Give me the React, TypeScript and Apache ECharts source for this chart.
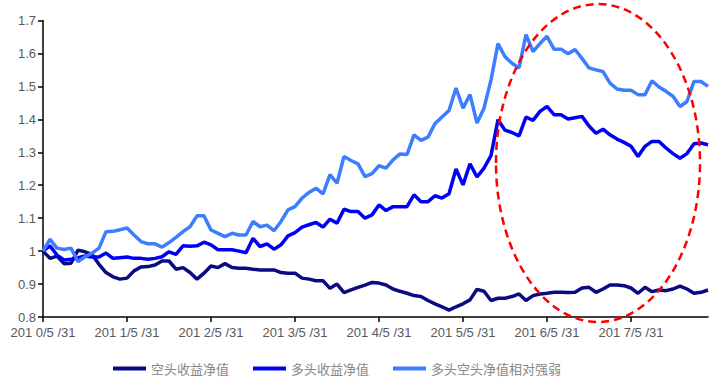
import React, { useEffect, useRef } from "react";
import * as echarts from "echarts";

const tickLabels = ["201 0/5 /31", "201 1/5 /31", "201 2/5 /31", "201 3/5 /31", "201 4/5 /31", "201 5/5 /31", "201 6/5 /31", "201 7/5 /31"];

// monthly categories from 2010/5 to 2018/4
const categories: string[] = [];
for (let k = 0; k < 96; k++) {
  const m = 4 + k;
  categories.push(`${2010 + Math.floor(m / 12)}/${(m % 12) + 1}`);
}

const shortNav = [
  1.0, 0.978, 0.985, 0.962, 0.963, 1.003, 0.998, 0.99, 0.96, 0.935,
  0.922, 0.915, 0.918, 0.94, 0.952, 0.953, 0.958, 0.97, 0.97, 0.945,
  0.95, 0.935, 0.915, 0.933, 0.955, 0.95, 0.962, 0.95, 0.948, 0.948,
  0.945, 0.943, 0.943, 0.943, 0.935, 0.933, 0.933, 0.918, 0.915, 0.91,
  0.91, 0.887, 0.9, 0.874, 0.882, 0.89, 0.897, 0.905, 0.903, 0.897,
  0.885, 0.878, 0.872, 0.865, 0.862, 0.85, 0.84, 0.831, 0.821, 0.831,
  0.84, 0.852, 0.884, 0.878, 0.85, 0.857, 0.857, 0.862, 0.87, 0.85,
  0.865, 0.87, 0.872, 0.875, 0.875, 0.874, 0.875, 0.888, 0.89, 0.875,
  0.885, 0.897, 0.897, 0.895, 0.888, 0.872, 0.89, 0.877, 0.882, 0.88,
  0.885, 0.894, 0.885, 0.872, 0.875, 0.882,
];

const longNav = [
  1.0, 1.016, 0.988, 0.973, 0.975, 0.98, 0.985, 0.982, 0.982, 0.994,
  0.978, 0.98, 0.982, 0.978, 0.978, 0.975, 0.978, 0.983, 0.998, 0.99,
  1.016, 1.015, 1.016, 1.027, 1.019, 1.004, 1.004, 1.004, 1.0, 0.995,
  1.039, 1.014, 1.022, 1.006, 1.019, 1.046, 1.056, 1.073, 1.08, 1.087,
  1.073, 1.097, 1.085, 1.127, 1.12, 1.12, 1.1, 1.11, 1.14, 1.123,
  1.135, 1.135, 1.135, 1.171, 1.15, 1.15, 1.168, 1.161, 1.174, 1.249,
  1.201, 1.265, 1.225, 1.252, 1.29, 1.399, 1.367, 1.36, 1.35, 1.407,
  1.397, 1.424, 1.439, 1.414, 1.414, 1.401, 1.405, 1.409, 1.38, 1.358,
  1.37, 1.353, 1.34, 1.33, 1.318, 1.287, 1.318, 1.333, 1.333, 1.313,
  1.296, 1.282, 1.296, 1.326, 1.328, 1.323,
];

const relStrength = [
  1.0, 1.036, 1.009, 1.005, 1.009, 0.968, 0.983, 0.994, 1.009, 1.059,
  1.06, 1.065, 1.07, 1.049, 1.029, 1.022, 1.022, 1.012, 1.026, 1.042,
  1.059, 1.074, 1.107, 1.107, 1.064, 1.054, 1.044, 1.054, 1.049, 1.049,
  1.09, 1.074, 1.079, 1.062, 1.09, 1.125, 1.135, 1.161, 1.178, 1.191,
  1.174, 1.232, 1.206, 1.287, 1.275, 1.265, 1.226, 1.235, 1.259, 1.252,
  1.277, 1.295, 1.293, 1.353, 1.336, 1.346, 1.387, 1.407, 1.427, 1.495,
  1.434, 1.475, 1.389, 1.434, 1.52, 1.63, 1.59, 1.57, 1.556, 1.657,
  1.606, 1.63, 1.652, 1.613, 1.613, 1.599, 1.612, 1.585, 1.556, 1.55,
  1.545, 1.51, 1.492, 1.488, 1.488, 1.475, 1.475, 1.517, 1.498, 1.485,
  1.47, 1.439, 1.454, 1.515, 1.515, 1.5,
];

const seriesNames = ["空头收益净值", "多头收益净值", "多头空头净值相对强弱"];
const seriesColors = ["#0a0a82", "#0000f5", "#3d7dff"];

export default function App() {
  const ref = useRef<HTMLDivElement>(null);
  useEffect(() => {
    if (!ref.current) return;
    const chart = echarts.init(ref.current, undefined, { renderer: "svg" });
    const labelMap: Record<string, string> = {};
    tickLabels.forEach((t, i) => {
      labelMap[categories[i * 12]] = t;
    });
    const dataSets = [shortNav, longNav, relStrength];
    chart.setOption({
      animation: false,
      grid: { left: 43, right: 9, top: 20.5, bottom: 70, containLabel: false },
      legend: {
        left: 113,
        top: 362,
        padding: 0,
        itemWidth: 33,
        itemHeight: 4,
        itemGap: 24,
        icon: "rect",
        textStyle: { color: "#888888", fontSize: 13, fontFamily: "Noto Sans CJK SC" },
        data: seriesNames,
      },
      xAxis: {
        type: "category",
        data: categories,
        boundaryGap: false,
        axisLine: { lineStyle: { color: "#000", width: 1.5 } },
        axisTick: {
          interval: (idx: number) => idx % 12 === 0,
          length: 5,
          lineStyle: { color: "#000", width: 1.5 },
        },
        axisLabel: {
          interval: (idx: number) => idx % 12 === 0,
          formatter: (v: string) => labelMap[v] ?? "",
          color: "#595959",
          fontSize: 13,
          fontFamily: "Liberation Sans, Arial, sans-serif",
          margin: 9,
        },
        splitLine: { show: false },
      },
      yAxis: {
        type: "value",
        min: 0.8,
        max: 1.7,
        interval: 0.1,
        axisLine: { show: true, lineStyle: { color: "#000", width: 1.5 } },
        axisTick: { show: true, length: 5, lineStyle: { color: "#000", width: 1.5 } },
        axisLabel: {
          color: "#595959",
          fontSize: 13,
          fontFamily: "Liberation Sans, Arial, sans-serif",
          margin: 7,
        },
        splitLine: { show: false },
      },
      series: seriesNames.map((name, k) => ({
        name,
        type: "line",
        data: dataSets[k],
        showSymbol: false,
        symbol: "none",
        color: seriesColors[k],
        lineStyle: { width: 3.5, color: seriesColors[k] },
        z: 2 + k,
      })),
      graphic: [
        {
          type: "ellipse",
          shape: { cx: 598, cy: 163, rx: 102, ry: 159 },
          style: { fill: "none", stroke: "#ff0000", lineWidth: 2.5, lineDash: [8, 5] },
          z: 100,
        },
      ],
    });
    return () => chart.dispose();
  }, []);
  return <div ref={ref} style={{ width: 717, height: 387, position: "absolute", left: 0, top: 0 }} />;
}
